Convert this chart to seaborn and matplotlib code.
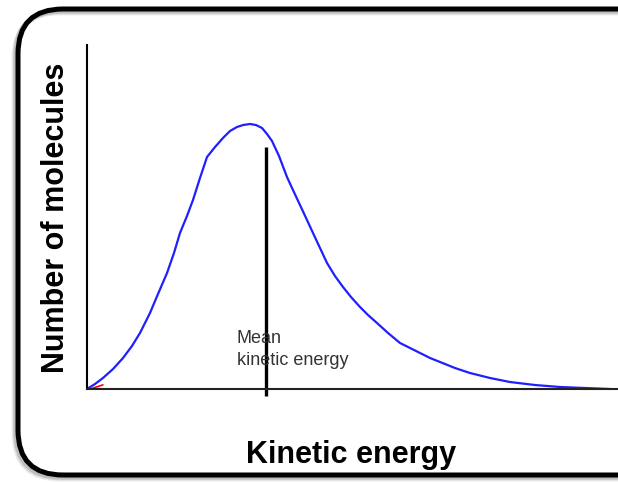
import matplotlib
matplotlib.use("Agg")
import matplotlib.pyplot as plt
from matplotlib.patches import FancyBboxPatch
from matplotlib.transforms import IdentityTransform
import seaborn as sns

# curve (arbitrary units)
energy = [0, 0.151, 0.301, 0.490, 0.678, 0.847, 0.998, 1.186, 1.337, 1.507,
          1.638, 1.751, 1.883, 1.996, 2.128, 2.260, 2.411, 2.561, 2.693, 2.825,
          2.938, 3.070, 3.183, 3.296, 3.390, 3.484, 3.616, 3.766, 3.879, 4.011,
          4.143, 4.256, 4.388, 4.520, 4.670, 4.821, 4.972, 5.141, 5.292, 5.461,
          5.669, 5.895, 6.083, 6.271, 6.460, 6.648, 6.930, 7.213, 7.589, 7.966,
          8.437, 8.908, 9.379, 9.849]
molecules = [0, 0.145, 0.320, 0.581, 0.901, 1.250, 1.628, 2.209, 2.762, 3.372,
             3.953, 4.535, 5.029, 5.494, 6.134, 6.744, 7.035, 7.297, 7.500, 7.616,
             7.674, 7.703, 7.674, 7.587, 7.413, 7.209, 6.773, 6.163, 5.785, 5.349,
             4.913, 4.535, 4.099, 3.663, 3.285, 2.965, 2.674, 2.384, 2.151, 1.919,
             1.628, 1.337, 1.192, 1.047, 0.901, 0.785, 0.610, 0.465, 0.320, 0.203,
             0.116, 0.058, 0.029, 0.0]
mean_energy = 3.38
mean_top = 7.03
mean_label = ["Mean", "kinetic energy"]

sns.set_style("white")
plt.rcParams["font.family"] = ["Liberation Sans", "DejaVu Sans"]

fig = plt.figure(figsize=(6.18, 4.82), dpi=100)

# rounded frame with a soft shadow, in pixel coordinates
for off, a in [(4, 0.12), (3, 0.2), (2, 0.3)]:
    fig.patches.append(FancyBboxPatch((18 - off, 7 - off), 700, 466,
                                      boxstyle="round,pad=0,rounding_size=45",
                                      transform=IdentityTransform(), fill=False,
                                      lw=3.6, ec="gray", alpha=a))
fig.patches.append(FancyBboxPatch((18, 7), 700, 466,
                                  boxstyle="round,pad=0,rounding_size=45",
                                  transform=IdentityTransform(), fill=False,
                                  lw=3.6, ec="black"))

ax = fig.add_axes([87 / 618, 93 / 482, 531 / 618, 344 / 482])
ax.patch.set_alpha(0)
sns.lineplot(x=energy, y=molecules, ax=ax, color="#1f1fff", lw=1.6)
for line in ax.lines:
    line.set_solid_joinstyle("round")
ax.plot([0, 0.3], [-0.03, 0.12], color="red", lw=1.2)

ax.plot([mean_energy, mean_energy], [mean_top, -0.2], color="black", lw=2.4,
        clip_on=False, solid_capstyle="butt")
ax.text(2.82, 1.34, mean_label[0], fontsize=13, color="#333333", va="baseline")
ax.text(2.82, 0.70, mean_label[1], fontsize=13, color="#333333", va="baseline")

ax.set_xlim(0, 10)
ax.set_ylim(0, 10)
ax.set_xticks([])
ax.set_yticks([])
for s in ["top", "right"]:
    ax.spines[s].set_visible(False)
ax.spines["left"].set_color("black")
ax.spines["left"].set_linewidth(1.5)
ax.spines["bottom"].set_color("#222222")
ax.spines["bottom"].set_linewidth(1.5)

fig.text(56 / 618, 1 - 217.5 / 482, "Number of molecules", rotation=90,
         fontsize=22, fontweight="bold", ha="center", va="center", color="black")
fig.text(351 / 618, 19 / 482, "Kinetic energy", fontsize=22,
         fontweight="bold", ha="center", va="baseline", color="black")

fig.savefig("out.png", dpi=100)
